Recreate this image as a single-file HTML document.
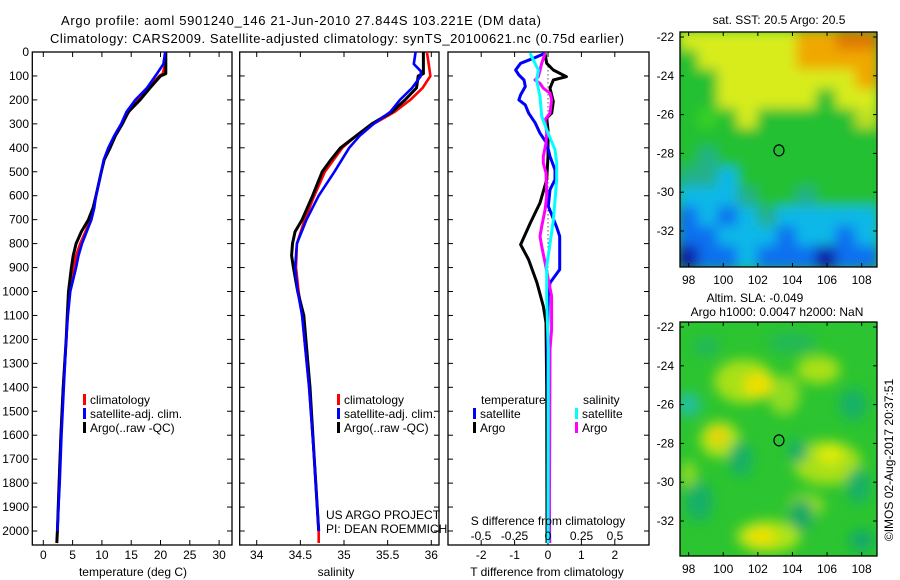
<!DOCTYPE html>
<html><head><meta charset="utf-8">
<style>
html,body{margin:0;padding:0;background:#fff;}
svg{display:block;font-family:"Liberation Sans",sans-serif;}
text{fill:#000;}
</style></head>
<body>
<svg id="chart" width="900" height="580" viewBox="0 0 900 580" xmlns="http://www.w3.org/2000/svg">
<defs>
<filter id="blur1" x="-5%" y="-5%" width="110%" height="110%"><feGaussianBlur stdDeviation="6"/></filter>
<filter id="blur2" x="-5%" y="-5%" width="110%" height="110%"><feGaussianBlur stdDeviation="6"/></filter>
<clipPath id="clipTop"><rect x="680" y="32" width="197" height="235"/></clipPath>
<clipPath id="clipBot"><rect x="680" y="322" width="197" height="234"/></clipPath>
</defs>
<text x="301" y="25" font-size="13" text-anchor="middle" textLength="480">Argo profile: aoml 5901240_146 21-Jun-2010 27.844S 103.221E (DM data)</text>
<text x="337" y="43" font-size="13" text-anchor="middle" textLength="574">Climatology: CARS2009. Satellite-adjusted climatology: synTS_20100621.nc (0.75d earlier)</text>
<g id="panels"></g>
<g id="maps"></g>
<text transform="translate(893,460) rotate(-90)" font-size="12" text-anchor="middle">©IMOS 02-Aug-2017 20:37:51</text>
</svg>
<script>
// ---------- data ----------
const depthTicks = [0,100,200,300,400,500,600,700,800,900,1000,1100,1200,1300,1400,1500,1600,1700,1800,1900,2000];
const tempTicks = [0,5,10,15,20,25,30];
const salTicks = [34,34.5,35,35.5,36];
const tdiffTicks = [-2,-1,0,1,2];
const sdiffTicks = [-0.5,-0.25,0,0.25,0.5];

const tempClimDepth = [0,50,90,100,150,200,250,300,350,400,450,500,600,650,700,750,800,850,900,1000,1100,1200,1400,1600,1800,2000,2050];
const tempClim = [20.8,20.8,20.4,19.8,17.9,16.1,14.6,13.4,12.2,11.2,10.4,9.9,9.0,8.6,8.0,7.2,6.3,5.6,5.2,4.5,4.1,3.9,3.4,3.0,2.7,2.4,2.3];
const tempSatDepth = [0,50,90,150,200,250,300,350,400,450,500,600,650,700,750,800,850,900,1000,1100,1200,1400,1600,1800,1950,2000];
const tempSat = [20.8,20.5,19.4,17.7,15.7,14.2,13.3,12.1,11.1,10.3,9.9,9.0,8.7,8.2,7.4,6.6,6.0,5.6,4.6,4.2,3.9,3.5,3.1,2.8,2.5,2.4];
const tempArgoDepth = [0,90,100,150,200,250,300,350,400,450,500,600,650,700,750,800,850,900,1000,1100,1200,1400,1600,1800,2000,2050];
const tempArgo = [20.9,20.9,20.0,18.2,16.5,14.5,13.5,12.3,11.4,10.4,9.9,9.0,8.5,7.7,6.5,5.6,5.1,4.8,4.3,4.1,3.9,3.4,3.0,2.7,2.4,2.3];

const salClimDepth = [0,50,100,150,200,250,300,350,400,500,600,700,800,900,1000,1100,1400,1700,2000,2050];
const salClim = [35.95,35.97,35.99,35.90,35.76,35.58,35.34,35.14,34.98,34.78,34.66,34.55,34.46,34.45,34.48,34.52,34.60,34.66,34.71,34.71];
const salSatDepth = [0,50,80,100,150,200,250,300,350,400,500,600,700,800,900,1000,1100,1400,1700,2000];
const salSat = [35.82,35.80,35.88,35.88,35.78,35.64,35.53,35.34,35.18,35.06,34.89,34.71,34.57,34.46,34.44,34.47,34.52,34.60,34.66,34.71];
const salArgoDepth = [0,90,100,150,200,250,300,350,400,450,500,600,700,750,800,850,900,1000,1100,1400,1700,2000];
const salArgo = [35.91,35.91,35.85,35.83,35.70,35.55,35.32,35.14,34.96,34.85,34.75,34.64,34.52,34.44,34.41,34.40,34.42,34.47,34.54,34.61,34.66,34.71];

const tdArgoDepth = [5,47,75,103,117,151,207,255,276,325,436,533,630,714,804,867,964,1061,1130,1400,2050];
const tdArgo = [-0.09,-0.04,0.16,0.55,0.16,0.06,0.16,0.11,-0.04,0.0,0.0,-0.04,-0.24,-0.53,-0.82,-0.58,-0.33,-0.14,-0.06,-0.04,-0.03];
const tdSatDepth = [5,26,47,75,96,117,144,179,200,221,255,297,339,381,436,492,533,575,644,728,769,908,964,1019,1228,2050];
const tdSat = [-0.09,-0.43,-0.82,-0.97,-0.87,-0.72,-0.68,-0.82,-0.87,-0.68,-0.58,-0.38,-0.24,-0.04,0.06,0.21,0.21,0.06,0.01,0.25,0.35,0.35,0.06,0.01,-0.02,0.05];
const sdArgoDepth = [5,47,103,117,131,151,172,200,255,283,339,381,436,464,505,602,658,728,769,811,880,950,1019,1158,1242,2050];
const sdArgo = [-0.022,-0.047,-0.072,-0.097,-0.06,-0.035,0.015,0.027,0.015,-0.022,-0.01,-0.015,-0.035,-0.035,-0.015,-0.01,-0.022,-0.047,-0.06,-0.047,-0.022,0.002,0.027,0.027,0.015,0.01];
const sdSatDepth = [5,33,75,117,186,269,325,408,464,533,700,755,894,1033,1242,2050];
const sdSat = [-0.134,-0.11,-0.072,-0.085,-0.06,-0.047,-0.01,0.052,0.065,0.065,0.04,0.027,-0.01,-0.01,0.002,0.0];

// ---------- helpers ----------
const NS = "http://www.w3.org/2000/svg";
function mk(tag, attrs, parent){const e=document.createElementNS(NS,tag);for(const k in attrs)e.setAttribute(k,attrs[k]);parent.appendChild(e);return e;}
const yD = d => 52 + d*0.2395;
const xT = t => 43.3 + t*5.86;
const xS = s => 256.7 + (s-34)*87.3;
const xTd = t => 548 + t*33.4;
const xSd = s => 548 + s*134;
const PT = 52, PB = 545;
const panels = document.getElementById('panels');

function frame(x0,x1,name,xticks,xf){
  const g = mk('g',{},panels);
  
  
  mk('rect',{x:x0,y:PT,width:x1-x0,height:PB-PT,fill:'none',stroke:'#000','stroke-width':1.3},g);
  xticks.forEach(v=>{const x=xf(v);
    mk('line',{x1:x,x2:x,y1:PT,y2:PT+5,stroke:'#000','stroke-width':1},g);
    mk('line',{x1:x,x2:x,y1:PB,y2:PB-5,stroke:'#000','stroke-width':1},g);});
  depthTicks.forEach(d=>{const y=yD(d);
    mk('line',{x1:x0,x2:x0+5,y1:y,y2:y,stroke:'#000','stroke-width':1},g);
    mk('line',{x1:x1,x2:x1-5,y1:y,y2:y,stroke:'#000','stroke-width':1},g);});
  return g;
}
function series(depths, vals, xf, color, name, w){
  const pts = depths.map((d,i)=>xf(vals[i]).toFixed(1)+','+yD(d).toFixed(1)).join(' ');
  const p = mk('polyline',{points:pts,fill:'none',stroke:color,'stroke-width':w||2.6,'stroke-linejoin':'round'},panels);
  
  
}
function txt(x,y,s,anchor,name,size){
  const t = mk('text',{x:x,y:y,'font-size':size||12,'text-anchor':anchor||'start'},panels);
  t.textContent = s;
  
  
  return t;
}
function legend(x,y,color,label,name){
  const r = mk('rect',{x:x,y:y-10,width:3,height:11,fill:color},panels);
  
  
  txt(x+7,y,label,'start',name);
}

depthTicks.forEach(d=>{ txt(29,yD(d)+4,String(d),'end','depth-tick-label'); });

// panel 1: temperature
frame(32.3,232,'temperature-panel',tempTicks,xT);
series(tempClimDepth,tempClim,xT,'#ff0000','temp-climatology-line');
series(tempArgoDepth,tempArgo,xT,'#000000','temp-argo-line',3);
series(tempSatDepth,tempSat,xT,'#0000ff','temp-satellite-line');
tempTicks.forEach(v=>txt(xT(v),559,String(v),'middle','temp-tick-label'));
txt(133,576,'temperature (deg C)','middle','temperature-axis-title');
legend(83,404,'#ff0000','climatology','legend-climatology');
legend(83,418,'#0000ff','satellite-adj. clim.','legend-satellite-adj');
legend(83,432,'#000000','Argo(..raw -QC)','legend-argo');

// panel 2: salinity
frame(239.7,439,'salinity-panel',salTicks,xS);
series(salClimDepth,salClim,xS,'#ff0000','sal-climatology-line');
series(salArgoDepth,salArgo,xS,'#000000','sal-argo-line',3);
series(salSatDepth,salSat,xS,'#0000ff','sal-satellite-line');
salTicks.forEach(v=>txt(xS(v),559,String(v),'middle','salinity-tick-label'));
txt(336,576,'salinity','middle','salinity-axis-title');
legend(337,404,'#ff0000','climatology','legend-climatology-2');
legend(337,418,'#0000ff','satellite-adj. clim.','legend-satellite-adj-2');
legend(337,432,'#000000','Argo(..raw -QC)','legend-argo-2');
txt(326,519,'US ARGO PROJECT','start','us-argo-project-label');
txt(326,533,'PI: DEAN ROEMMICH','start','pi-label');

// panel 3: differences
frame(448,649,'difference-panel',tdiffTicks,xTd);
const zl = mk('line',{x1:548,x2:548,y1:yD(60),y2:yD(1150),stroke:'#000','stroke-width':1,'stroke-dasharray':'1,3'},panels);


series(tdArgoDepth,tdArgo,xTd,'#000000','tdiff-argo-line',3);
series(tdSatDepth,tdSat,xTd,'#0000ff','tdiff-satellite-line',3);
series(sdArgoDepth,sdArgo,xSd,'#ff00ff','sdiff-argo-line',3);
series(sdSatDepth,sdSat,xSd,'#00ffff','sdiff-satellite-line',3);
txt(481,404,'temperature','start','legend-temperature-heading');
txt(583,404,'salinity','start','legend-salinity-heading');
legend(473,418,'#0000ff','satellite','legend-t-satellite');
legend(473,432,'#000000','Argo','legend-t-argo');
legend(575,418,'#00ffff','satellite','legend-s-satellite');
legend(575,432,'#ff00ff','Argo','legend-s-argo');
txt(548,525,'S difference from climatology','middle','s-difference-axis-title');
sdiffTicks.forEach(v=>txt(xSd(v),540,String(v),'middle','sdiff-tick-label'));
tdiffTicks.forEach(v=>txt(xTd(v),559,String(v),'middle','tdiff-tick-label'));
txt(547,576,'T difference from climatology','middle','t-difference-axis-title');

// ---------- maps ----------
const maps = document.getElementById('maps');
const lonTicks = [98,100,102,104,106,108];
const latTicks = [-22,-24,-26,-28,-30,-32];
const sstGrid = [
 "YYYYYYOODD",
 "GYYYYYOOOO",
 "GGYYYYYYYO",
 "GGYYYYYGYY",
 "GgGYGGGGGy",
 "GGGGGGGGGG",
 "GTGGGGGGGG",
 "TTCGGGGGGG",
 "CCCTGGTGGG",
 "BCBCTCCCCC",
 "BBCCCBCCBC",
 "KBBCBBBKBB"];
const slaBlobs = [
 [101.2,-24.8,'#a8e018',30,22],[105.5,-24.2,'#a8e018',22,14],[103.5,-25.5,'#90dc20',16,20],
 [106,-29,'#a8e018',34,22],[104.8,-31.2,'#90dc20',18,12],[102.6,-32.8,'#b0e418',32,16],
 [99.8,-27.8,'#b0e418',20,18],[98,-29.6,'#90dc20',8,14],
 [102,-25,'#f0e000',14,12],[99.7,-27.6,'#f0d010',9,9],[102.2,-32.8,'#f0e000',14,9],[106.2,-28.6,'#e0ec10',12,9],
 [98,-26,'#20c0a0',12,12],[104.5,-31.7,'#18a868',12,16],[107.5,-26,'#18b068',14,16],
 [101,-28.8,'#18b068',12,18],[104.3,-28.4,'#18b068',10,12],[108,-33,'#10a870',12,10],
 [98.6,-31,'#18b068',14,20],[107.8,-30.2,'#18b068',12,18],[104,-22.8,'#20b858',24,10],[99,-23,'#20b858',14,10]];
const palette = {Y:'#d8ec1c',O:'#f0a800',D:'#e07800',G:'#24c030',g:'#38d028',T:'#20b088',C:'#10b8e8',B:'#1070f0',K:'#0818a8',y:'#c0e020'};
function mapBox(y0,h,clip,name){
  const g = mk('g',{},maps);
  
  
  const lonX = lon => 680 + (lon-97.5)*17.3;
  const latY = lat => y0 + 5 + (-22-lat)*19.4;
  const inner = mk('g',{'clip-path':clip},g);
  return {g,inner,lonX,latY,y0,h};
}
const m1 = mapBox(32,235,'url(#clipTop)','sst-map');
mk('rect',{x:680,y:32,width:197,height:235,fill:'#24c030'},m1.inner);
const b1 = mk('g',{filter:'url(#blur1)'},m1.inner);
sstGrid.forEach((row,r)=>{ for(let c=0;c<row.length;c++){
  mk('rect',{x:680+c*19.7-2,y:32+r*19.6-2,width:23.7,height:23.6,fill:palette[row[c]]},b1);
}});
const m2 = mapBox(322,234,'url(#clipBot)','sla-map');
mk('rect',{x:680,y:322,width:197,height:234,fill:'#2cc430'},m2.inner);
const b2 = mk('g',{filter:'url(#blur2)'},m2.inner);
slaBlobs.forEach(b=>{
  const e = mk('ellipse',{cx:m2.lonX(b[0]),cy:m2.latY(b[1]),rx:b[3],ry:b[4],fill:b[2]},b2);
  
  
});
[m1,m2].forEach(m=>{
  mk('rect',{x:680,y:m.y0,width:197,height:m.h,fill:'none',stroke:'#000','stroke-width':1.3},m.g);
  lonTicks.forEach(l=>{const x=m.lonX(l);
    mk('line',{x1:x,x2:x,y1:m.y0,y2:m.y0+4,stroke:'#000'},m.g);
    mk('line',{x1:x,x2:x,y1:m.y0+m.h,y2:m.y0+m.h-4,stroke:'#000'},m.g);
    const t=mk('text',{x:x,y:m.y0+m.h+17,'font-size':12,'text-anchor':'middle'},m.g);t.textContent=String(l);
    
    });
  latTicks.forEach(l=>{const y=m.latY(l);
    mk('line',{x1:680,x2:684,y1:y,y2:y,stroke:'#000'},m.g);
    mk('line',{x1:877,x2:873,y1:y,y2:y,stroke:'#000'},m.g);
    const t=mk('text',{x:674,y:y+4,'font-size':12,'text-anchor':'end'},m.g);t.textContent=String(l);
    
    });
  const c = mk('ellipse',{cx:m.lonX(103.22),cy:m.latY(-27.844),rx:5,ry:5.5,fill:'none',stroke:'#000','stroke-width':1.2},m.g);
  
  
});
function mtxt(x,y,s,name){const t=mk('text',{x:x,y:y,'font-size':12,'text-anchor':'middle'},maps);t.textContent=s;
  
  }
mtxt(779,24,'sat. SST: 20.5 Argo: 20.5','sst-map-title');
mtxt(755,302,'Altim. SLA: -0.049','sla-map-title');
mtxt(777,316,'Argo h1000: 0.0047 h2000: NaN','argo-height-title');
</script>
</body></html>
